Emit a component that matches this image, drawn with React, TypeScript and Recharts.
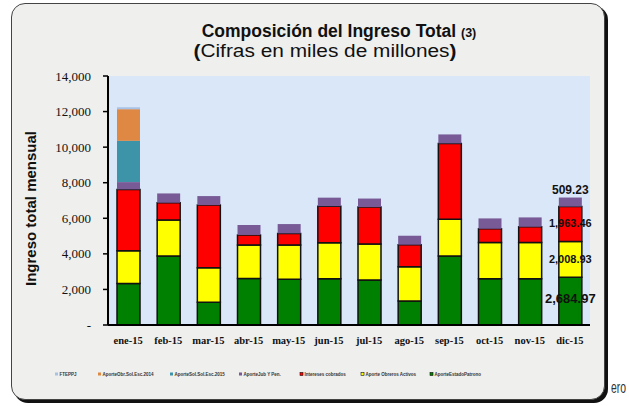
import { BarChart, Bar, XAxis, YAxis, CartesianGrid, LabelList } from 'recharts';

const months = ['ene-15', 'feb-15', 'mar-15', 'abr-15', 'may-15', 'jun-15', 'jul-15', 'ago-15', 'sep-15', 'oct-15', 'nov-15', 'dic-15'];

// stacked bottom -> top
const estadoPatrono = [2340, 3880, 1280, 2610, 2570, 2600, 2530, 1350, 3880, 2600, 2600, 2684.97];
const obreros = [1834, 2020, 1940, 1890, 1925, 2020, 2020, 1927, 2060, 2045, 2045, 2008.93];
const intereses = [3450, 972, 3523, 562, 656, 2060, 2080, 1236, 4270, 764, 876, 1963.46];
const jubPen = [410, 525, 505, 560, 524, 480, 480, 506, 505, 584, 528, 509.23];
const solEsc2015 = [2320, 0, 0, 0, 0, 0, 0, 0, 0, 0, 0, 0];
const obrSolEsc2014 = [1780, 0, 0, 0, 0, 0, 0, 0, 0, 0, 0, 0];
const fteppj = [110, 0, 0, 0, 0, 0, 0, 0, 0, 0, 0, 0];

const yTicks = [0, 2000, 4000, 6000, 8000, 10000, 12000, 14000];

const series = [
  { key: 'estadoPatrono', name: 'AporteEstadoPatrono', color: '#008000', stroke: '#111', values: estadoPatrono },
  { key: 'obreros', name: 'Aporte Obreros Activos', color: '#ffff00', stroke: '#111', values: obreros },
  { key: 'intereses', name: 'Intereses cobrados', color: '#ff0000', stroke: '#111', values: intereses },
  { key: 'jubPen', name: 'AporteJub Y Pen.', color: '#775a96', stroke: 'none', values: jubPen },
  { key: 'solEsc2015', name: 'AporteSol.Sol.Esc.2015', color: '#3d93a8', stroke: 'none', values: solEsc2015 },
  { key: 'obrSolEsc2014', name: 'AporteObr.Sol.Esc.2014', color: '#de8844', stroke: 'none', values: obrSolEsc2014 },
  { key: 'fteppj', name: 'FTEPPJ', color: '#a9c2e4', stroke: 'none', values: fteppj },
];

const legendX = [55, 98, 170, 239, 300, 361, 430];

const data = months.map((m, i) => {
  const row: Record<string, string | number> = { month: m };
  series.forEach(s => { row[s.key] = s.values[i]; });
  return row;
});

const fmt = (v: number) => v.toLocaleString('en-US', { minimumFractionDigits: 2, maximumFractionDigits: 2 });

const makeLabel = (key: string) => (props: any) => {
  const { x, y, width, height, value, index } = props;
  if (index !== months.length - 1 || !value) return null;
  const cx = Number(x) + Number(width) / 2;
  let ty = Number(y) + Number(height) / 2;
  let size = 11;
  if (key === 'jubPen') { ty = Number(y) - 8; size = 12; }
  if (key === 'estadoPatrono') { ty -= 3; size = 13; }
  if (key === 'intereses') ty -= 1;
  return (
    <text x={cx} y={ty} textAnchor="middle" dominantBaseline="central"
      fontFamily="Liberation Sans, Arial, sans-serif" fontWeight="bold" fontSize={size} fill="#111">
      {fmt(Number(value))}
    </text>
  );
};

export default function App() {
  return (
    <div style={{ position: 'absolute', left: 0, top: 0, width: 629, height: 406, overflow: 'hidden', background: '#ffffff' }}>
      <div style={{
        position: 'absolute', left: 11, top: 3, width: 592, height: 395,
        border: '1.5px solid #444', borderRadius: 14, background: '#efefed',
        boxShadow: '3px 3px 0 #111',
      }} />
      <div style={{ position: 'absolute', left: 0, top: 0 }}>
        <BarChart width={629} height={406} data={data} margin={{ top: 76, right: 39, left: 0, bottom: 51 }} barSize={23}>
          <CartesianGrid horizontal={false} vertical={false} fill="#dae7f8" />
          <XAxis dataKey="month" height={30} tickLine={false} axisLine={{ stroke: '#000', strokeWidth: 2 }}
            tick={{ fontFamily: 'Liberation Serif, serif', fontWeight: 'bold', fontSize: 10.5, fill: '#111' }} tickMargin={6} />
          <YAxis width={108} domain={[0, 14000]} ticks={yTicks} interval={0}
            axisLine={{ stroke: '#000', strokeWidth: 2 }} tickLine={{ stroke: '#000', strokeWidth: 1.5 }} tickSize={5} tickMargin={12}
            tick={{ fontFamily: 'Liberation Serif, serif', fontSize: 13, fill: '#111' }}
            tickFormatter={(v: number) => (v === 0 ? '-' : v.toLocaleString('en-US'))}
            label={(p: any) => {
              const vb = p.viewBox || {};
              const cx = 30;
              const cy = (vb.y ?? 76) + (vb.height ?? 249) / 2 + 8;
              return (
                <text x={cx} y={cy} transform={`rotate(-90, ${cx}, ${cy})`} textAnchor="middle" dominantBaseline="central"
                  fontFamily="Liberation Sans, Arial, sans-serif" fontWeight="bold" fontSize={15} fill="#111">
                  Ingreso total mensual
                </text>
              );
            }}
          />
          {series.map(s => (
            <Bar key={s.key} dataKey={s.key} name={s.name} stackId="a" fill={s.color}
              stroke={s.stroke} strokeWidth={s.stroke === 'none' ? 0 : 1.5} isAnimationActive={false}>
              {['estadoPatrono', 'obreros', 'intereses', 'jubPen'].includes(s.key) && (
                <LabelList dataKey={s.key} content={makeLabel(s.key)} />
              )}
            </Bar>
          ))}
        </BarChart>
      </div>
      <svg width={629} height={406} style={{ position: 'absolute', left: 0, top: 0, pointerEvents: 'none' }}>
        <text x={339} y={37} textAnchor="middle" fontFamily="Liberation Sans, Arial, sans-serif" fill="#111">
          <tspan fontWeight="bold" fontSize={17.5}>Composición del Ingreso Total </tspan>
          <tspan fontWeight="bold" fontSize={12.5}>(3)</tspan>
        </text>
        <text x={325} y={57} textAnchor="middle" fontFamily="Liberation Sans, Arial, sans-serif" fontSize={17.5} fill="#111"
          textLength={263} lengthAdjust="spacingAndGlyphs">
          <tspan fontWeight="bold">(</tspan>Cifras en miles de millones<tspan fontWeight="bold">)</tspan>
        </text>
        {series.slice().reverse().map((s, i) => (
          <g key={s.key}>
            <rect x={legendX[i]} y={372.5} width={3} height={3} fill={s.color}
              stroke={s.stroke === 'none' ? 'none' : '#111'} strokeWidth={0.6} />
            <text x={legendX[i] + 4.5} y={375.5} fontFamily="Liberation Sans, Arial, sans-serif" fontWeight="bold"
              fontSize={4.5} fill="#333">{s.name}</text>
          </g>
        ))}
        <text x={611} y={393} fontFamily="Liberation Sans, Arial, sans-serif" fontSize={16} fill="#333"
          textLength={15} lengthAdjust="spacingAndGlyphs">ero</text>
      </svg>
    </div>
  );
}
